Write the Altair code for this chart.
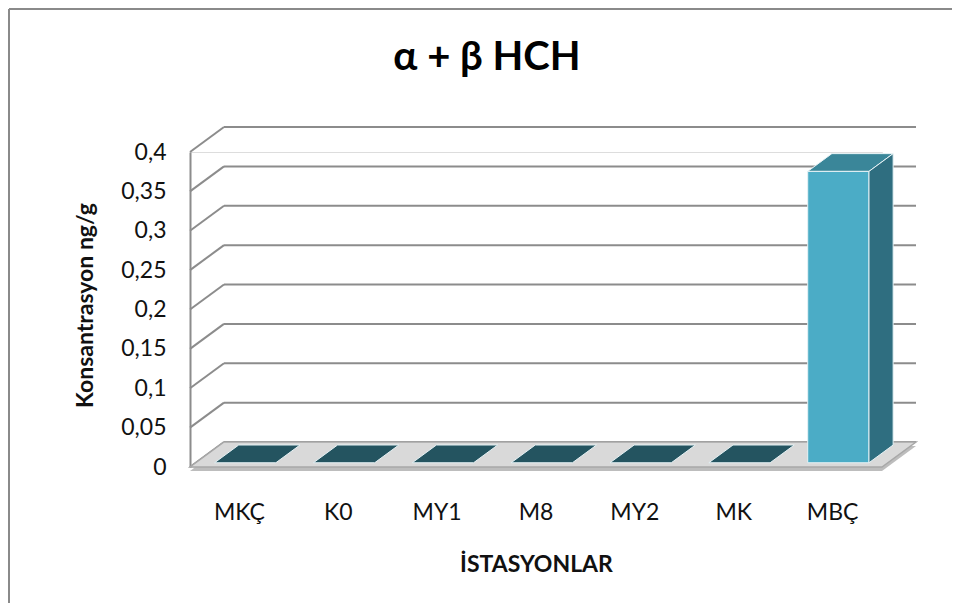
import altair as alt
import pandas as pd

# ---- data ----
STATIONS = ["MKÇ", "K0", "MY1", "M8", "MY2", "MK", "MBÇ"]
VALUES = [0, 0, 0, 0, 0, 0, 0.37]
Y_TICKS = [0, 0.05, 0.1, 0.15, 0.2, 0.25, 0.3, 0.35, 0.4]
TITLE = "α + β HCH"
X_TITLE = "İSTASYONLAR"
Y_TITLE = "Konsantrasyon ng/g"

# ---- layout / style constants ----
W, H = 692, 315
N = len(STATIONS)
YMAX = 0.4
DX_PX, DY_PX = 34, 25            # 3-D depth of the floor/walls in pixels
dxu = DX_PX / (W / N)            # depth in x data units
dyu = DY_PX / (H / YMAX)         # depth in y data units
BAR_L, BAR_R = 0.19, 0.81        # bar extent inside its category slot
F0, F1 = 0.17, 0.88              # bar front/back depth fractions
FONT = "Lato"

bars = pd.DataFrame({"station": STATIONS, "value": VALUES, "idx": range(N)})
bars["xc"] = bars["idx"] + 0.5
bars["xf0"] = bars["idx"] + BAR_L + F0 * dxu
bars["xf1"] = bars["idx"] + BAR_R + F0 * dxu
bars["yb"] = F0 * dyu
bars["yt"] = bars["value"] + F0 * dyu

side_rows, top_rows = [], []
for _, r in bars.iterrows():
    for f in (F0, F1):
        side_rows.append({"station": r.station, "value": r.value,
                          "x": r.idx + BAR_R + f * dxu,
                          "top": r.value + f * dyu, "bot": f * dyu})
        top_rows.append({"station": r.station, "value": r.value,
                         "y": r.value + f * dyu,
                         "xl": r.idx + BAR_L + f * dxu,
                         "xr": r.idx + BAR_R + f * dxu})
side = pd.DataFrame(side_rows)
top = pd.DataFrame(top_rows)

floor = pd.DataFrame({"y": [0, dyu], "xl": [0, dxu], "xr": [N, N + dxu]})
grid = pd.DataFrame({"t": Y_TICKS})
grid["tb"] = grid["t"] + dyu
grid["x0"] = 0.0
grid["xb"] = dxu
grid["xe"] = N + dxu

xs = alt.Scale(domain=[0, N], nice=False, zero=False)
ys = alt.Scale(domain=[0, YMAX], nice=False)

GRID_COL = "#8c8c8c"

x_axis = alt.Axis(labels=False, ticks=False, domain=False, grid=False,
                  title=X_TITLE, titleFont=FONT, titleFontSize=23,
                  titleFontWeight="bold", titleColor="#111",
                  titleBaseline="middle", titleY=97)
y_axis = alt.Axis(values=Y_TICKS, format=".2~f",
                  labelExpr="replace(datum.label, '.', ',')",
                  ticks=False, grid=False, domainColor=GRID_COL, domainWidth=2,
                  labelPadding=24, labelFont=FONT, labelFontSize=23,
                  labelColor="#111", title=Y_TITLE, titleFont=FONT,
                  titleFontSize=23, titleFontWeight="bold", titleColor="#111",
                  titleAngle=-90, titleX=-105, titleY=153,
                  titleBaseline="middle", titleAlign="center")


def X(f):
    return alt.X(f, scale=xs, axis=x_axis, title=X_TITLE)


def Y(f):
    return alt.Y(f, scale=ys, axis=y_axis, title=Y_TITLE)


# back-wall gridlines
back = alt.Chart(grid).mark_rule(color=GRID_COL, strokeWidth=2).encode(
    x=X("xb:Q"), x2="xe:Q", y=Y("tb:Q"),
)
# side-wall diagonals
diag = alt.Chart(grid).mark_rule(color=GRID_COL, strokeWidth=2).encode(
    x=X("x0:Q"), x2="xb:Q", y=Y("t:Q"), y2="tb:Q",
)
# floor (slab edge + top surface)
floor_edge = alt.Chart(floor).mark_area(orient="horizontal", color="#bdbdbd",
                                        yOffset=4).encode(
    y=Y("y:Q"), x=X("xl:Q"), x2="xr:Q",
)
floor_l = alt.Chart(floor).mark_area(orient="horizontal", color="#d9d9d9",
                                     stroke="#a8a8a8", strokeWidth=1.5).encode(
    y=Y("y:Q"), x=X("xl:Q"), x2="xr:Q",
)
# top faces (zero bars show only their dark top)
top_l = alt.Chart(top).mark_area(orient="horizontal", stroke="#e6f2f5",
                                 strokeWidth=1).encode(
    y=Y("y:Q"), x=X("xl:Q"), x2="xr:Q",
    detail="station:N",
    color=alt.condition("datum.value == 0", alt.value("#245460"),
                        alt.value("#3a8699")),
)
# front faces
front_l = alt.Chart(bars).transform_filter("datum.value > 0").mark_rect(
    color="#4bacc6", stroke="#e6f2f5", strokeWidth=1).encode(
    x=X("xf0:Q"), x2="xf1:Q", y=Y("yb:Q"), y2="yt:Q",
)
# side faces
side_l = alt.Chart(side).transform_filter("datum.value > 0").mark_area(
    color="#2f6e80", stroke="#e6f2f5", strokeWidth=1).encode(
    x=X("x:Q"), y=Y("top:Q"), y2="bot:Q",
    detail="station:N",
)
# category labels
labels_l = alt.Chart(bars).mark_text(font=FONT, fontSize=23, color="#111",
                                     baseline="middle").encode(
    x=X("xc:Q"), y=alt.value(361), text="station:N",
)
# title
title_l = alt.Chart(pd.DataFrame({"t": [TITLE]})).mark_text(
    font=FONT, fontSize=40, fontWeight="bold", color="#000",
    baseline="alphabetic", align="center").encode(
    x=alt.value(297), y=alt.value(-82), text="t:N")

# outer frame (left and top edges)
one = pd.DataFrame({"a": [0]})
frame_left = alt.Chart(one).mark_rule(color="#8a8a8a", strokeWidth=2).encode(
    x=alt.value(-181), y=alt.value(-143), y2=alt.value(460))
frame_top = alt.Chart(one).mark_rule(color="#8a8a8a", strokeWidth=2).encode(
    x=alt.value(-181), x2=alt.value(800), y=alt.value(-143))

chart = alt.layer(
    frame_left, frame_top, back, diag, floor_edge, floor_l, top_l, front_l,
    side_l, labels_l, title_l,
).properties(
    width=W, height=H,
    autosize=alt.AutoSizeParams(type="none"),
    padding={"left": 182, "top": 144, "right": 70, "bottom": 136},
).configure_view(stroke=None).configure(background="white")

chart.save("out.html", embed_options={"renderer": "svg", "actions": False})
